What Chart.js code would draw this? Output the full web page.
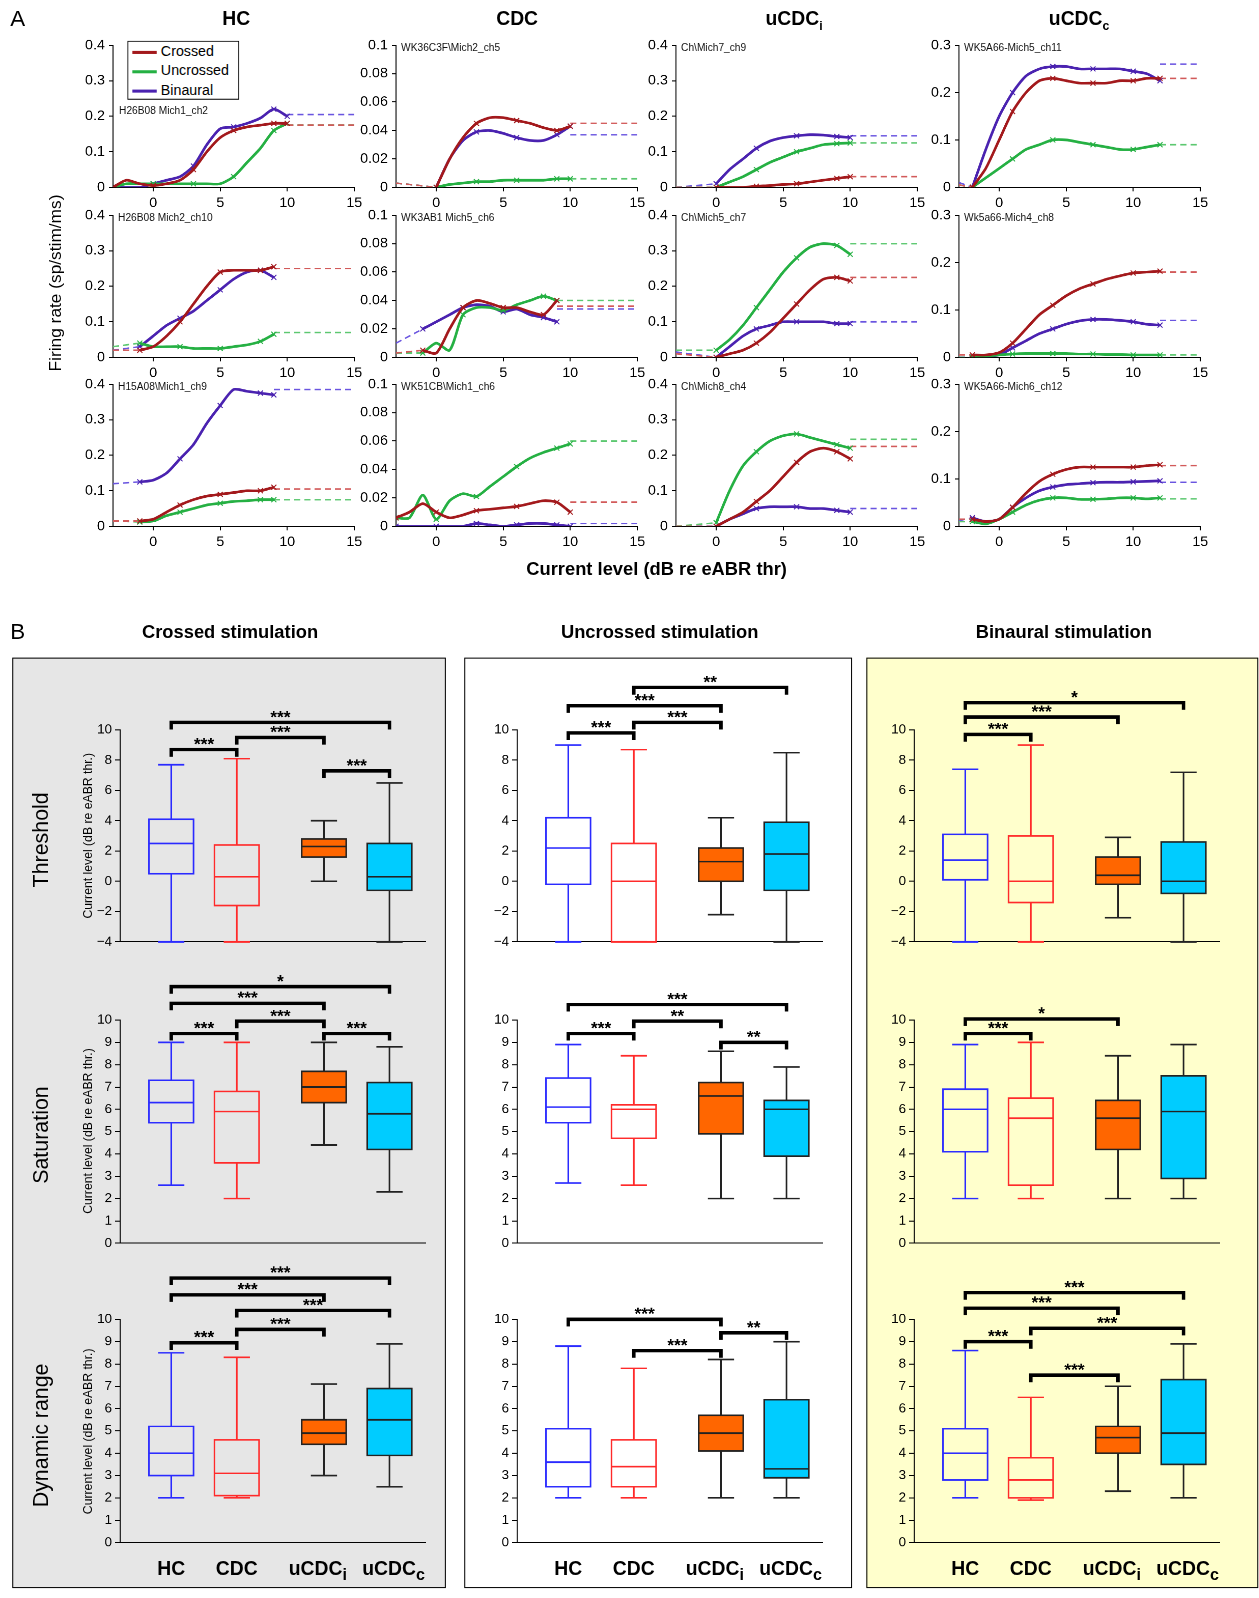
<!DOCTYPE html>
<html><head><meta charset="utf-8">
<script src="https://cdn.jsdelivr.net/npm/chart.js@4.4.1/dist/chart.umd.min.js"></script>
<style>
body{margin:0;width:1259px;height:1598px;position:relative;font-family:Arial,'Liberation Sans',sans-serif;background:#fff;overflow:hidden}
#root{position:absolute;left:0;top:0;width:1240px;height:1570px;transform:scale(1.018);transform-origin:0 0}
canvas{position:absolute}
.t{position:absolute;white-space:nowrap;color:#000}
.b{font-weight:bold}
.c{transform:translateX(-50%)}
.rot{transform:translate(-50%,-50%) rotate(-90deg)}
.panel{position:absolute;border:1px solid #000;box-sizing:border-box}
.lab{position:absolute;font-size:10px;color:#111;white-space:nowrap}
</style></head><body>
<div id="root"></div>
<script>
// ---------- Part A data: values at integer steps from x0 ----------
const HC1 = {x0:-3, red:[0,0.02,0.01,0.005,0.01,0.02,0.05,0.1,0.14,0.16,0.17,0.175,0.18,0.18],
  green:[0,0.01,0.01,0.01,0.01,0.01,0.01,0.01,0.01,0.03,0.07,0.11,0.16,0.18],
  blue:[0,0,0,0.01,0.02,0.03,0.06,0.12,0.165,0.17,0.18,0.195,0.22,0.2],
  pre:[0,0,0], asym:[0.175,0.175,0.205]};
const HC2 = {x0:-1, red:[0.02,0.03,0.06,0.1,0.15,0.2,0.24,0.245,0.245,0.245,0.255],
  green:[0.04,0.03,0.03,0.03,0.025,0.025,0.025,0.03,0.035,0.045,0.065],
  blue:[0.03,0.06,0.09,0.11,0.13,0.16,0.19,0.22,0.24,0.245,0.225],
  pre:[0.02,0.03,0.02], asym:[0.25,0.07,0.25]};
const HC3 = {x0:-1, red:[0.015,0.02,0.04,0.06,0.075,0.085,0.09,0.095,0.1,0.1,0.11],
  green:[0.012,0.015,0.03,0.04,0.05,0.06,0.065,0.07,0.072,0.075,0.075],
  blue:[0.125,0.13,0.15,0.19,0.23,0.29,0.34,0.385,0.38,0.375,0.37],
  pre:[0.015,0.015,0.12], asym:[0.105,0.075,0.385]};
const CDC1 = {x0:0, red:[0,0.02,0.035,0.045,0.049,0.049,0.047,0.045,0.042,0.04,0.043],
  green:[0,0.002,0.003,0.004,0.004,0.005,0.005,0.005,0.005,0.006,0.006],
  blue:[0,0.02,0.033,0.039,0.04,0.038,0.035,0.033,0.033,0.037,0.043],
  pre:[0.003,0.003,0.003], asym:[0.045,0.006,0.037]};
const CDC2 = {x0:-1, red:[0.005,0.003,0.02,0.035,0.04,0.038,0.035,0.035,0.032,0.03,0.04],
  green:[0.003,0.01,0.005,0.03,0.035,0.035,0.033,0.037,0.04,0.043,0.04],
  blue:[0.02,0.025,0.03,0.035,0.037,0.036,0.032,0.034,0.03,0.028,0.025],
  pre:[0.003,0.003,0.01], asym:[0.036,0.04,0.034]};
const CDC3 = {x0:-3, red:[0.006,0.01,0.016,0.01,0.006,0.008,0.011,0.012,0.013,0.014,0.016,0.018,0.017,0.01],
  green:[0.006,0.006,0.022,0.005,0.018,0.023,0.021,0.028,0.035,0.042,0.048,0.052,0.055,0.058],
  blue:[0,0,0,0,0,0,0.002,0.001,0,0.001,0.002,0.002,0.001,0],
  pre:[0.006,0.006,0.001], asym:[0.017,0.06,0.002]};
const UI1 = {x0:0, red:[0,0,0,0.003,0.005,0.008,0.01,0.015,0.02,0.025,0.03],
  green:[0,0.015,0.03,0.05,0.07,0.085,0.1,0.11,0.12,0.123,0.125],
  blue:[0.01,0.05,0.08,0.11,0.13,0.14,0.145,0.148,0.147,0.143,0.14],
  pre:[0,0,0], asym:[0.03,0.125,0.145]};
const UI2 = {x0:0, red:[0,0.01,0.02,0.04,0.07,0.11,0.15,0.19,0.22,0.225,0.215],
  green:[0.02,0.05,0.09,0.14,0.19,0.24,0.28,0.31,0.32,0.315,0.29],
  blue:[0,0.03,0.06,0.08,0.09,0.1,0.1,0.1,0.1,0.095,0.095],
  pre:[0.01,0.02,0.015], asym:[0.225,0.32,0.1]};
const UI3 = {x0:0, red:[0,0.02,0.04,0.07,0.1,0.14,0.18,0.21,0.22,0.21,0.19],
  green:[0.01,0.1,0.17,0.21,0.24,0.255,0.26,0.25,0.24,0.23,0.22],
  blue:[0,0.02,0.035,0.05,0.055,0.055,0.055,0.05,0.05,0.045,0.04],
  pre:[0,0,0], asym:[0.225,0.245,0.05]};
const UC1 = {x0:-2, red:[0,0.04,0.1,0.16,0.2,0.225,0.23,0.225,0.22,0.22,0.22,0.225,0.225,0.23,0.23],
  green:[0,0.02,0.04,0.06,0.08,0.09,0.1,0.1,0.095,0.09,0.085,0.08,0.08,0.085,0.09],
  blue:[0,0.08,0.15,0.2,0.235,0.25,0.255,0.255,0.25,0.25,0.25,0.25,0.245,0.24,0.225],
  pre:[0.005,0.005,0.01], asym:[0.23,0.09,0.26]};
const UC2 = {x0:-2, red:[0.005,0.005,0.01,0.03,0.06,0.09,0.11,0.13,0.145,0.155,0.165,0.172,0.178,0.18,0.182],
  green:[0,0.003,0.005,0.007,0.008,0.008,0.008,0.008,0.007,0.007,0.006,0.006,0.005,0.005,0.005],
  blue:[0,0.003,0.005,0.02,0.035,0.05,0.06,0.07,0.077,0.08,0.08,0.078,0.075,0.07,0.068],
  pre:[0.005,0,0], asym:[0.18,0.005,0.078]};
const UC3 = {x0:-2, red:[0.015,0.01,0.015,0.04,0.07,0.095,0.11,0.12,0.125,0.125,0.125,0.125,0.125,0.128,0.13],
  green:[0.01,0.005,0.015,0.03,0.045,0.055,0.06,0.06,0.057,0.057,0.058,0.06,0.06,0.058,0.06],
  blue:[0.018,0.01,0.015,0.04,0.06,0.075,0.083,0.088,0.09,0.092,0.093,0.093,0.094,0.095,0.096],
  pre:[0.015,0.01,0.012], asym:[0.128,0.058,0.093]};

const panelsA = [[HC1,HC2,HC3],[CDC1,CDC2,CDC3],[UI1,UI2,UI3],[UC1,UC2,UC3]];
const yMaxA = [0.4,0.1,0.4,0.3];
const yStepA = [0.1,0.02,0.1,0.1];
const unitLabels = [['H26B08 Mich1_ch2','H26B08 Mich2_ch10','H15A08\\Mich1_ch9'],
  ['WK36C3F\\Mich2_ch5','WK3AB1 Mich5_ch6','WK51CB\\Mich1_ch6'],
  ['Ch\\Mich7_ch9','Ch\\Mich5_ch7','Ch\\Mich8_ch4'],
  ['WK5A66-Mich5_ch11','Wk5a66-Mich4_ch8','WK5A66-Mich6_ch12']];
const xTicksA = [0,5,10,15];

// ---------- Part B data: [min, q1, median, q3, max] for HC, CDC, uCDCi, uCDCc ----------
const crossThr = [[-4,0.5,2.5,4.1,7.7],[-4,-1.6,0.3,2.4,8.1],[0,1.6,2.3,2.8,4.0],[-4,-0.6,0.3,2.5,6.5]];
const crossSat = [[2.6,5.4,6.3,7.3,9.0],[2.0,3.6,5.9,6.8,9.0],[4.4,6.3,7.0,7.7,9.0],[2.3,4.2,5.8,7.2,8.8]];
const crossDR  = [[2.0,3.0,4.0,5.2,8.5],[2.0,2.1,3.1,4.6,8.3],[3.0,4.4,4.9,5.5,7.1],[2.5,3.9,5.5,6.9,8.9]];
const uncrThr  = [[-4,-0.2,2.2,4.2,9.0],[-4,-4,0,2.5,8.7],[-2.2,0,1.3,2.2,4.2],[-4,-0.6,1.8,3.9,8.5]];
const uncrSat  = [[2.7,5.4,6.1,7.4,8.9],[2.6,4.7,6.0,6.2,8.4],[2.0,4.9,6.6,7.2,8.6],[2.0,3.9,6.0,6.4,7.9]];
const uncrDR   = [[2.0,2.5,3.6,5.1,8.8],[2.0,2.5,3.4,4.6,7.8],[2.0,4.1,4.9,5.7,8.2],[2.0,2.9,3.3,6.4,9.0]];
const binThr   = [[-4,0.1,1.4,3.1,7.4],[-4,-1.4,0,3.0,9.0],[-2.4,-0.2,0.4,1.6,2.9],[-4,-0.8,0,2.6,7.2]];
const binSat   = [[2.0,4.1,6.0,6.9,8.9],[2.0,2.6,5.6,6.5,9.0],[2.0,4.2,5.6,6.4,8.4],[2.0,2.9,5.9,7.5,8.9]];
const binDR    = [[2.0,2.8,4.0,5.1,8.6],[1.9,2.0,2.8,3.8,6.5],[2.3,4.0,4.7,5.2,7.0],[2.0,3.5,4.9,7.3,8.9]];
// significance brackets: [from, to, y, stars]
const crossThrSig = [[0,3,10.5,'***'],[1,2,9.5,'***'],[0,1,8.7,'***'],[2,3,7.3,'***']];
const crossSatSig = [[0,3,11.5,'*'],[0,2,10.75,'***'],[1,2,9.95,'***'],[0,1,9.4,'***'],[2,3,9.4,'***']];
const crossDRSig  = [[0,3,11.85,'***'],[0,2,11.1,'***'],[1,3,10.4,'***'],[1,2,9.55,'***'],[0,1,8.95,'***']];
const uncrThrSig  = [[1,3,12.8,'**'],[0,2,11.6,'***'],[1,2,10.5,'***'],[0,1,9.8,'***']];
const uncrSatSig  = [[0,3,10.7,'***'],[1,2,9.95,'**'],[0,1,9.4,'***'],[2,3,9.0,'**']];
const uncrDRSig   = [[0,2,10.0,'***'],[2,3,9.4,'**'],[1,2,8.6,'***']];
const binThrSig   = [[0,3,11.8,'*'],[0,2,10.85,'***'],[0,1,9.7,'***']];
const binSatSig   = [[0,2,10.05,'*'],[0,1,9.4,'***']];
const binDRSig    = [[0,3,11.2,'***'],[0,2,10.5,'***'],[1,3,9.6,'***'],[0,1,9.0,'***'],[1,2,7.5,'***']];
const groupPos = [1,2,3.33,4.33];
const groupNames = ['HC','CDC','uCDC<sub>i</sub>','uCDC<sub>c</sub>'];

const RED='#a3191c', GREEN='#25b043', BLUE='#4a22b0';
const LRED='#d25a5a', LGREEN='#5cc870', LBLUE='#6a55e0';
const root=document.getElementById('root');

function el(tag, cls, html, style){
  const e=document.createElement(tag); if(cls) e.className=cls; if(html!=null) e.innerHTML=html;
  Object.assign(e.style, style||{}); root.appendChild(e); return e;
}
function canvasAt(left, top, w, h){
  const c=el('canvas');
  c.style.left=left+'px'; c.style.top=top+'px'; c.style.width=w+'px'; c.style.height=h+'px';
  c.width=w; c.height=h;
  return c;
}
function fmt(v){ return String(+v.toFixed(3)); }

// ---------- Part A ----------
const plotLeftA=[111,389,664,942], plotTopA=[40,207,373], PW=237, PH=144;
panelsA.forEach((col, ci)=>{
  col.forEach((P, ri)=>{
    const YW=42, PADT=8, PADR=14, XH=24;
    const left=plotLeftA[ci], top=plotTopA[ri];
    const cv=canvasAt(left-YW, top-PADT, PW+YW+PADR, PH+PADT+XH);
    const datasets=[];
    [['red',RED,LRED],['green',GREEN,LGREEN],['blue',BLUE,LBLUE]].forEach(([k,c,lc],si)=>{
      const ys=P[k], n=ys.length, xl=P.x0+n-1;
      datasets.push({data:[{x:-3,y:P.pre[si]},{x:P.x0,y:ys[0]},{x:P.x0+0.01,y:null},{x:xl,y:P.asym[si]},{x:15,y:P.asym[si]}],
        borderColor:lc, borderWidth:1.5, borderDash:[6,4], pointRadius:0, spanGaps:false, tension:0, order:2});
      datasets.push({data:ys.map((y,i)=>({x:P.x0+i,y})), borderColor:c, borderWidth:2.6, tension:0.25,
        pointStyle:'crossRot', pointBorderColor:c, pointBorderWidth:1,
        pointRadius:ys.map((y,i)=>(i%3===0||i===n-1)?3.5:0), order:1});
    });
    new Chart(cv,{type:'line',data:{datasets},options:{
      responsive:false, animation:false, devicePixelRatio:2, layout:{padding:{top:PADT,right:PADR}},
      plugins:{legend:{display:false},tooltip:{enabled:false}},
      scales:{
        x:{type:'linear',min:-3,max:15,afterFit:s=>{s.height=XH;},
          afterBuildTicks:s=>{s.ticks=xTicksA.map(v=>({value:v}));},
          ticks:{color:'#000',font:{size:14,family:'Arial'},padding:3,maxRotation:0,callback:v=>v},
          grid:{drawOnChartArea:false,tickLength:4,color:'#000'},border:{color:'#000'}},
        y:{min:0,max:yMaxA[ci],afterFit:s=>{s.width=YW;},
          ticks:{stepSize:yStepA[ci],color:'#000',font:{size:14,family:'Arial'},padding:4,callback:v=>fmt(v)},
          grid:{drawOnChartArea:false,tickLength:4,color:'#000'},border:{color:'#000'}}
      }}});
    const ly = (ci===0&&ri===0)? top+63 : top+1;
    const lx = (ci===0&&ri===0)? left+6 : left+5;
    el('div','lab',unitLabels[ci][ri],{left:lx+'px',top:ly+'px'});
  });
});
el('div','t b','HC',{left:'232px',top:'8px',fontSize:'19px',transform:'translateX(-50%)'});
el('div','t b','CDC',{left:'508px',top:'8px',fontSize:'19px',transform:'translateX(-50%)'});
el('div','t b','uCDC<sub style="font-size:12px">i</sub>',{left:'780px',top:'8px',fontSize:'19px',transform:'translateX(-50%)'});
el('div','t b','uCDC<sub style="font-size:12px">c</sub>',{left:'1060px',top:'8px',fontSize:'19px',transform:'translateX(-50%)'});
el('div','t','A',{left:'10px',top:'6px',fontSize:'22px'});
el('div','t rot','Firing rate (sp/stim/ms)',{left:'55px',top:'278px',fontSize:'17px'});
el('div','t b c','Current level (dB re eABR thr)',{left:'645px',top:'549px',fontSize:'18px'});
// legend
const lg=el('div',null,'',{position:'absolute',left:'125px',top:'40px',width:'110px',height:'58px',border:'1px solid #000',background:'#fff',fontSize:'14px',lineHeight:'19px',boxSizing:'border-box'});
[['Crossed',RED],['Uncrossed',GREEN],['Binaural',BLUE]].forEach(([n,c])=>{
  lg.innerHTML+=`<div style="white-space:nowrap"><span style="display:inline-block;width:24px;height:3px;background:${c};vertical-align:middle;margin:0 4px 0 4px"></span>${n}</div>`;
});

// ---------- Part B ----------
const boxPlugin={id:'boxes',afterDatasetsDraw(chart){
  const o=chart.options.plugins.boxes; if(!o||!o.stats) return;
  const xs=chart.scales.x, ys=chart.scales.y, g=chart.ctx;
  g.save();
  o.stats.forEach((s,i)=>{
    const cx=xs.getPixelForValue(groupPos[i]);
    const hw=xs.getPixelForValue(groupPos[i]+0.34)-cx, cw=xs.getPixelForValue(groupPos[i]+0.2)-cx;
    const col=['#2a2aff','#ff2a2a','#222','#222'][i];
    const fill=[null,null,'#ff6600','#00ccff'][i];
    const p=s.map(v=>ys.getPixelForValue(v));
    g.lineWidth=1.6; g.strokeStyle=col;
    g.beginPath(); g.moveTo(cx,p[0]); g.lineTo(cx,p[1]); g.moveTo(cx,p[3]); g.lineTo(cx,p[4]);
    g.moveTo(cx-cw,p[0]); g.lineTo(cx+cw,p[0]); g.moveTo(cx-cw,p[4]); g.lineTo(cx+cw,p[4]); g.stroke();
    if(fill){g.fillStyle=fill; g.fillRect(cx-hw,p[3],2*hw,p[1]-p[3]);}
    g.strokeRect(cx-hw,p[3],2*hw,p[1]-p[3]);
    g.beginPath(); g.moveTo(cx-hw,p[2]); g.lineTo(cx+hw,p[2]); g.stroke();
  });
  g.strokeStyle='#000'; g.fillStyle='#000'; g.lineWidth=3.4; g.textAlign='center'; g.textBaseline='bottom';
  g.font='bold 17px Arial';
  o.sig.forEach(([a,b,y,t])=>{
    const x1=xs.getPixelForValue(groupPos[a]), x2=xs.getPixelForValue(groupPos[b]), py=ys.getPixelForValue(y);
    g.beginPath(); g.moveTo(x1,py+7); g.lineTo(x1,py); g.lineTo(x2,py); g.lineTo(x2,py+7); g.stroke();
    g.fillText(t,(x1+x2)/2,py+4);
  });
  g.restore();
}};
Chart.register(boxPlugin);

const panelDefs=[
  {left:12,width:426,bg:'#e6e6e6',axis:118,rows:[crossThr,crossSat,crossDR],sig:[crossThrSig,crossSatSig,crossDRSig],title:'Crossed stimulation',tx:226},
  {left:456,width:381,bg:'#fff',axis:508,rows:[uncrThr,uncrSat,uncrDR],sig:[uncrThrSig,uncrSatSig,uncrDRSig],title:'Uncrossed stimulation',tx:648},
  {left:851,width:385,bg:'#ffffcc',axis:898,rows:[binThr,binSat,binDR],sig:[binThrSig,binSatSig,binDRSig],title:'Binaural stimulation',tx:1045}
];
const rowDefs=[{top:717,bottom:932,min:-4,max:10,step:2},{top:1002,bottom:1228,min:0,max:10,step:1},{top:1296,bottom:1522,min:0,max:10,step:1}];
panelDefs.forEach(pd=>{
  el('div','panel','',{left:pd.left+'px',top:'646px',width:pd.width+'px',height:'914px',background:pd.bg});
  el('div','t b c',pd.title,{left:pd.tx+'px',top:'611px',fontSize:'18px'});
  rowDefs.forEach((rd,ri)=>{
    const YW=32, PADT=80, PADR=12, XH=4, W=300, H=rd.bottom-rd.top;
    const cv=canvasAt(pd.axis-YW, rd.top-PADT, W+YW+PADR, H+PADT+XH);
    new Chart(cv,{type:'scatter',data:{datasets:[{data:pd.rows[ri].map((s,i)=>({x:groupPos[i],y:s[2]})),pointRadius:0}]},
      options:{responsive:false,animation:false,devicePixelRatio:2,layout:{padding:{top:PADT,right:PADR}},
        plugins:{legend:{display:false},tooltip:{enabled:false},boxes:{stats:pd.rows[ri],sig:pd.sig[ri]}},
        scales:{
          x:{type:'linear',min:0.22,max:4.88,afterFit:s=>{s.height=XH;},ticks:{display:false},
            grid:{display:false},border:{color:'#000'}},
          y:{min:rd.min,max:rd.max,afterFit:s=>{s.width=YW;},
            ticks:{stepSize:rd.step,color:'#000',font:{size:13,family:'Arial'},padding:3,callback:v=>v<0?'\u2212'+(-v):v},
            grid:{drawOnChartArea:false,tickLength:5,color:'#000'},border:{color:'#000'}}
        }}});
  });
  groupPos.forEach((gp,i)=>{
    const px=pd.axis+(gp-0.22)/(4.88-0.22)*300 + [0,0,-6,4][i];
    el('div','t b c',groupNames[i],{left:px+'px',top:'1530px',fontSize:'19px'});
  });
});
el('div','t','B',{left:'10px',top:'608px',fontSize:'22px'});
[['Threshold',825],['Saturation',1115],['Dynamic range',1410]].forEach(([n,y])=>{
  el('div','t rot',n,{left:'40px',top:y+'px',fontSize:'21px'});
  el('div','t rot','Current level (dB re eABR thr.)',{left:'86px',top:(y-4)+'px',fontSize:'12px'});
});
</script>
</body></html>
